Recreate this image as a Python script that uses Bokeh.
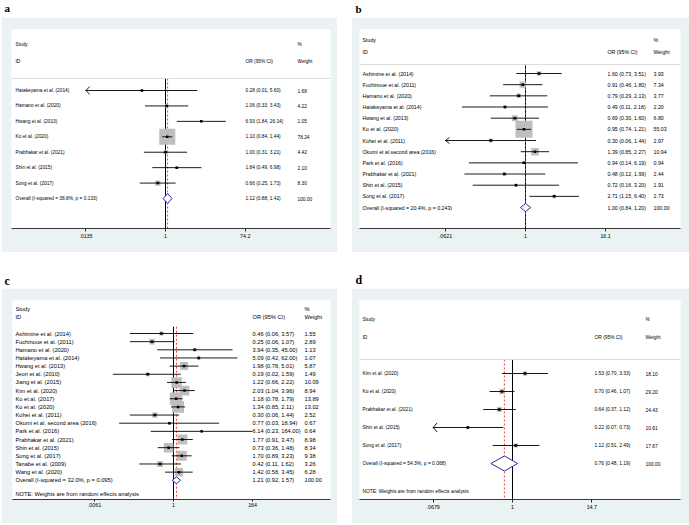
import numpy as np
from bokeh.plotting import figure
from bokeh.models import Range1d, FixedTicker, Span, Spacer
from bokeh.layouts import row, column
from bokeh.core.properties import value
from bokeh.embed import file_html
from bokeh.resources import INLINE

# ---------------- data ----------------
# Panel a
a_studies = ["Hatakeyama et al. (2014)", "Hamano et al. (2020)", "Hwang et al. (2013)",
             "Ko et al. (2020)", "Prabhakar et al. (2021)", "Shin et al. (2015)", "Song et al. (2017)"]
a_or = [0.28, 1.06, 6.93, 1.10, 1.00, 1.84, 0.66]
a_lo = [0.01, 0.33, 1.84, 0.84, 0.31, 0.49, 0.25]
a_hi = [5.60, 3.43, 26.14, 1.44, 3.21, 6.98, 1.73]
a_w = [1.68, 4.22, 1.05, 78.24, 4.42, 2.10, 8.30]
a_overall_label = "Overall  (I-squared = 38.8%, p = 0.133)"
a_overall = [1.12, 0.88, 1.42]
a_overall_w = 100.00
a_ticks = [0.0135, 1, 74.2]
a_tick_labels = [".0135", "1", "74.2"]

# Panel b
b_studies = ["Ashimine et al. (2014)", "Fuchinoue et al. (2011)", "Hamano et al. (2020)",
             "Hatakeyama et al. (2014)", "Hwang et al. (2013)", "Ko et al. (2020)", "Kohei et al. (2011)",
             "Okumi et al.second area  (2016)", "Park et al. (2016)", "Prabhakar et al. (2021)",
             "Shin et al. (2015)", "Song et al. (2017)"]
b_or = [1.60, 0.91, 0.79, 0.49, 0.69, 0.95, 0.30, 1.39, 0.94, 0.48, 0.72, 2.71]
b_lo = [0.73, 0.46, 0.29, 0.11, 0.30, 0.74, 0.06, 0.85, 0.14, 0.12, 0.16, 1.15]
b_hi = [3.51, 1.80, 2.13, 2.18, 1.60, 1.21, 1.44, 2.27, 6.19, 1.99, 3.20, 6.40]
b_w = [3.93, 7.34, 3.77, 2.20, 6.80, 55.03, 2.97, 10.94, 0.94, 2.44, 1.91, 2.73]
b_overall_label = "Overall  (I-squared = 20.4%, p = 0.243)"
b_overall = [1.00, 0.84, 1.20]
b_overall_w = 100.00
b_ticks = [0.0621, 1, 16.1]
b_tick_labels = [".0621", "1", "16.1"]

# Panel c
c_studies = ["Ashimine et al. (2014)", "Fuchinoue et al. (2011)", "Hamano et al. (2020)",
             "Hatakeyama et al. (2014)", "Hwang et al. (2013)", "Jeon et al. (2010)", "Jiang et al. (2015)",
             "Kim et al. (2020)", "Ko et al. (2017)", "Ko et al. (2020)", "Kohei et al. (2011)",
             "Okumi et al. second area (2016)", "Park et al. (2016)", "Prabhakar et al. (2021)",
             "Shin et al. (2015)", "Song et al. (2017)", "Tanabe et al. (2009)", "Wang et al. (2020)"]
c_or = [0.46, 0.25, 3.94, 5.09, 1.98, 0.19, 1.22, 2.03, 1.18, 1.34, 0.30, 0.77, 6.14, 1.77, 0.73, 1.70, 0.42, 1.42]
c_lo = [0.06, 0.06, 0.35, 0.42, 0.78, 0.02, 0.66, 1.04, 0.78, 0.85, 0.06, 0.03, 0.23, 0.91, 0.36, 0.89, 0.11, 0.58]
c_hi = [3.57, 1.07, 45.00, 62.00, 5.01, 1.59, 2.22, 3.96, 1.79, 2.11, 1.44, 18.94, 164.00, 3.47, 1.48, 3.23, 1.62, 3.45]
c_w = [1.55, 2.89, 1.13, 1.07, 5.87, 1.49, 10.09, 8.94, 13.89, 13.02, 2.52, 0.67, 0.64, 8.98, 8.34, 9.38, 3.26, 6.28]
c_overall_label = "Overall  (I-squared = 32.0%, p = 0.095)"
c_overall = [1.21, 0.92, 1.57]
c_overall_w = 100.00
c_ticks = [0.0061, 1, 164]
c_tick_labels = [".0061", "1", "164"]

# Panel d
d_studies = ["Kim et al. (2020)", "Ko et al. (2020)", "Prabhakar et al. (2021)", "Shin et al. (2015)", "Song et al. (2017)"]
d_or = [1.53, 0.70, 0.64, 0.22, 1.12]
d_lo = [0.70, 0.46, 0.37, 0.066, 0.51]
d_hi = [3.33, 1.07, 1.12, 0.73, 2.49]
d_w = [18.10, 29.20, 24.43, 10.61, 17.67]
d_overall_label = "Overall  (I-squared = 54.3%, p = 0.068)"
d_overall = [0.76, 0.48, 1.19]
d_overall_w = 100.00
d_ticks = [0.0679, 1, 14.7]
d_tick_labels = [".0679", "1", "14.7"]

note_text = "NOTE: Weights are from random effects analysis"
panel_labels = ["a", "b", "c", "d"]

# ---------------- style ----------------
BLUE = "#EAF2F3"
FONT = "Liberation Sans"
GRAY = "#BEBEBE"
RED = "#E0312B"
NAVY = "#2A2AA0"


def panel(studies, ors, los, his, ws, ov_label, ov, ov_w, ticks, tick_labels, note, L):
    fw, fh = L["fw"], L["fh"]
    bl, br, bt, bb = L["borders"]
    W = fw - bl - br
    H = fh - bt - bb
    c, sc = L["c"], L["sc"]
    y1, s = L["y1"], L["s"]
    X = lambda px: (px - c) / sc
    Y = lambda py: (py - y1) / s
    xr = Range1d(X(0), X(W))
    yr = Range1d(Y(H), Y(0))
    p = figure(width=fw, height=fh, x_range=xr, y_range=yr, output_backend="svg",
               toolbar_location=None, min_border_left=bl, min_border_right=br,
               min_border_top=bt, min_border_bottom=bb, y_axis_location=None)
    p.grid.visible = False
    p.outline_line_color = None
    p.background_fill_color = "white"
    p.border_fill_color = BLUE

    n = len(studies)
    rows = np.arange(n)
    lnor = np.log(ors)
    lnlo = np.log(los)
    lnhi = np.log(his)
    tmin, tmax = float(np.log(ticks[0])), float(np.log(ticks[-1]))
    clo = np.maximum(lnlo, tmin)
    chi = np.minimum(lnhi, tmax)
    ov_ln = float(np.log(ov[0]))
    fs = L["fs"]

    if L["sep"] is not None:
        p.add_layout(Span(location=Y(L["sep"]), dimension="width", line_color="#D4D4D4", line_width=0.8))

    ytop = Y(L["vtop"])
    p.segment(x0=[0.0], y0=[ytop], x1=[0.0], y1=[yr.start], line_color="black", line_width=1)
    p.segment(x0=[ov_ln], y0=[ytop], x1=[ov_ln], y1=[yr.start], line_color=RED, line_width=0.9,
              line_dash="2 2")

    sizes = L["k"] * np.sqrt(np.array(ws))
    p.scatter(x=lnor, y=rows, size=sizes, marker="square", fill_color=GRAY, line_color=None)
    p.segment(x0=clo, y0=rows, x1=chi, y1=rows, line_color="black", line_width=0.9)

    # arrows for clipped intervals
    ad, ah = L["arrow"]
    cl = np.where(lnlo < tmin)[0]
    if len(cl):
        xt = np.full(len(cl), tmin)
        p.segment(x0=xt, y0=cl, x1=xt + ad / sc, y1=cl - ah / s, line_color="black", line_width=0.9)
        p.segment(x0=xt, y0=cl, x1=xt + ad / sc, y1=cl + ah / s, line_color="black", line_width=0.9)
    ch = np.where(lnhi > tmax)[0]
    if len(ch):
        xt = np.full(len(ch), tmax)
        p.segment(x0=xt, y0=ch, x1=xt - ad / sc, y1=ch - ah / s, line_color="black", line_width=0.9)
        p.segment(x0=xt, y0=ch, x1=xt - ad / sc, y1=ch + ah / s, line_color="black", line_width=0.9)

    p.scatter(x=lnor, y=rows, size=L["dot"], marker="square", fill_color="black", line_color=None)

    # overall diamond
    yo = n
    hd = L["dh"] / s
    p.patch(x=[float(np.log(ov[1])), ov_ln, float(np.log(ov[2])), ov_ln],
            y=[yo, yo - hd, yo, yo + hd], fill_color="white", line_color=NAVY, line_width=1)

    # texts
    tkw = dict(text_font=value(FONT), text_font_size=fs, text_baseline="middle",
               text_align="left", text_color="black")
    labels = list(studies) + [ov_label]
    est = [f"{o:.2f} ({a:.2f}, {b:.2f})" for o, a, b in zip(ors, los, his)] + \
          [f"{ov[0]:.2f} ({ov[1]:.2f}, {ov[2]:.2f})"]
    wt = [f"{w:.2f}" for w in ws] + [f"{ov_w:.2f}"]
    allrows = list(range(n + 1))
    p.text(x=[X(L["xl"])] * (n + 1), y=allrows, text=labels, **tkw)
    p.text(x=[X(L["xe"])] * (n + 1), y=allrows, text=est, **tkw)
    p.text(x=[X(L["xw"])] * (n + 1), y=allrows, text=wt, **tkw)
    hs, hi = Y(L["h1"]), Y(L["h2"])
    p.text(x=[X(L["xl"]), X(L["xl"]), X(L["xe"]), X(L["xw"]), X(L["xw"])],
           y=[hs, hi, hi, hs, hi], text=["Study", "ID", "OR (95% CI)", "%", "Weight"], **tkw)
    if note is not None:
        p.text(x=[X(L["xl"])], y=[Y(L["note"])], text=[note], **tkw)

    # axis
    tv = [float(np.log(t)) for t in ticks]
    ax = p.xaxis[0]
    ax.ticker = FixedTicker(ticks=tv, minor_ticks=[])
    ax.major_label_overrides = {v: lab for v, lab in zip(tv, tick_labels)}
    ax.axis_line_color = "#222222"
    ax.axis_line_width = 0.9
    ax.major_tick_line_color = "#222222"
    ax.major_tick_out = L["tick"]
    ax.major_tick_in = 0
    ax.minor_tick_out = 0
    ax.minor_tick_in = 0
    ax.major_label_standoff = L["standoff"]
    ax.major_label_text_font = FONT
    ax.major_label_text_font_size = L["tfs"]
    ax.major_label_text_color = "black"
    return p


def label_fig(w, h, txt, x, y, size):
    p = figure(width=w, height=h, x_range=Range1d(0, w), y_range=Range1d(h, 0), output_backend="svg",
               toolbar_location=None, min_border=0, x_axis_location=None, y_axis_location=None)
    p.grid.visible = False
    p.outline_line_color = None
    p.text(x=[x], y=[y], text=[txt], text_font=value("Liberation Serif"), text_font_style="bold",
           text_font_size=size, text_baseline="middle", text_color="black")
    return p


LA = dict(fw=336, fh=235, borders=(10, 7, 12, 24), c=154, sc=18.5, y1=61, s=15.43,
          xl=4, xe=234, xw=286, h1=15, h2=32, sep=49, vtop=49, note=None,
          fs="4.8px", tfs="5.3px", dh=5, k=1.81, dot=2.5, arrow=(4, 4), tick=3, standoff=2)
LB = dict(fw=338, fh=235, borders=(8, 9, 12, 24), c=166, sc=28.8, y1=44, s=11.17,
          xl=3, xe=248, xw=294, h1=10, h2=22, sep=35, vtop=35, note=None,
          fs="5.25px", tfs="5.3px", dh=4, k=2.29, dot=2.5, arrow=(4, 3), tick=3, standoff=2)
LC = dict(fw=336, fh=235, borders=(11, 7, 11, 19), c=161, sc=15.5, y1=34, s=8.4,
          xl=3, xe=240, xw=292, h1=9, h2=17, sep=None, vtop=27, note=199,
          fs="5.7px", tfs="5.3px", dh=3.5, k=3.3, dot=2.5, arrow=(4, 3), tick=2, standoff=1)
LD = dict(fw=338, fh=235, borders=(8, 9, 12, 24), c=153, sc=29.5, y1=73, s=18,
          xl=3, xe=235, xw=286, h1=19, h2=37, sep=59, vtop=59, note=191,
          fs="4.9px", tfs="5.3px", dh=7.5, k=1.0, dot=2.5, arrow=(4, 4.5), tick=3, standoff=2)

pa = panel(a_studies, a_or, a_lo, a_hi, a_w, a_overall_label, a_overall, a_overall_w,
           a_ticks, a_tick_labels, None, LA)
pb = panel(b_studies, b_or, b_lo, b_hi, b_w, b_overall_label, b_overall, b_overall_w,
           b_ticks, b_tick_labels, None, LB)
pc = panel(c_studies, c_or, c_lo, c_hi, c_w, c_overall_label, c_overall, c_overall_w,
           c_ticks, c_tick_labels, note_text, LC)
pd_ = panel(d_studies, d_or, d_lo, d_hi, d_w, d_overall_label, d_overall, d_overall_w,
            d_ticks, d_tick_labels, note_text, LD)

la = label_fig(351, 17, panel_labels[0], 4, 7, "11px")
lb = label_fig(338, 17, panel_labels[1], 4, 8, "11px")
lc = label_fig(351, 36, panel_labels[2], 4, 28, "12px")
ld = label_fig(338, 36, panel_labels[3], 4, 27, "12px")

layout = column(
    row(la, lb),
    row(Spacer(width=1, height=235), pa, Spacer(width=14, height=235), pb),
    row(lc, ld),
    row(Spacer(width=1, height=235), pc, Spacer(width=14, height=235), pd_),
)

open("out.html", "w").write(file_html(layout, INLINE))
